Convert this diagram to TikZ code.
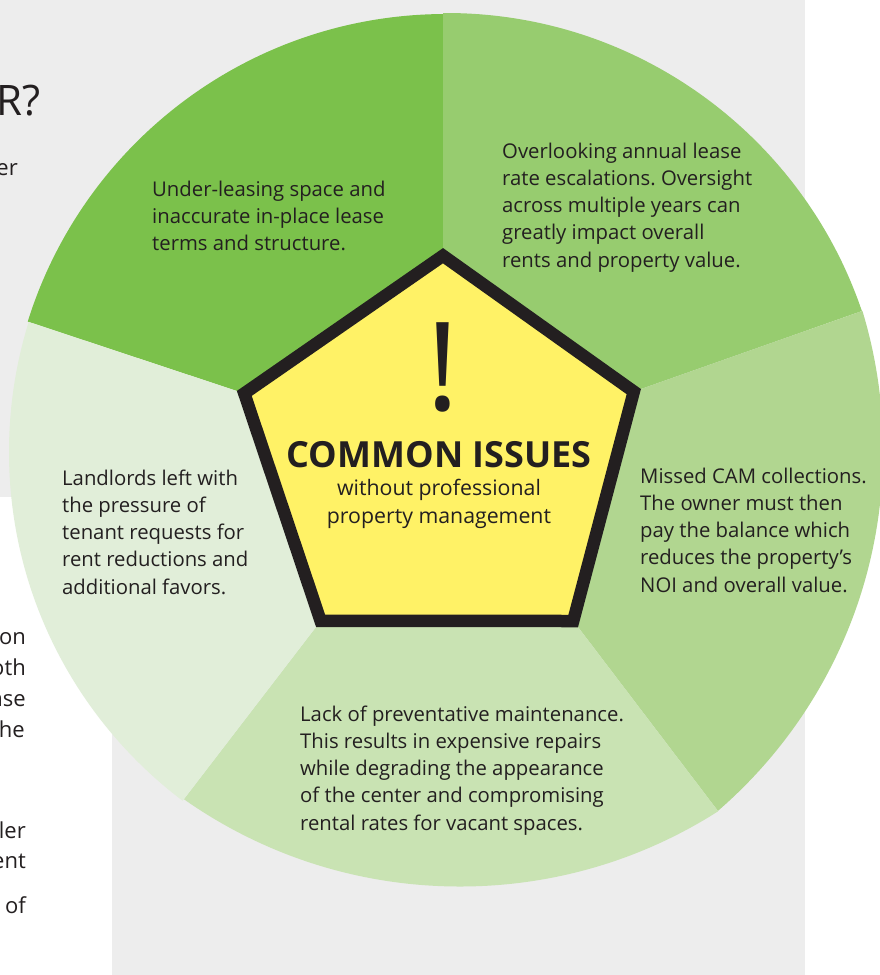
\documentclass[tikz,border=0pt]{standalone}
\usepackage{fontspec}
\setmainfont{Open Sans}
\usetikzlibrary{calc}
\frenchspacing
\definecolor{panelgray}{HTML}{EDEDED}
\definecolor{inkdark}{HTML}{231F20}
\definecolor{wedgeA}{HTML}{7BC14B}
\definecolor{wedgeB}{HTML}{97CC6F}
\definecolor{wedgeC}{HTML}{B1D690}
\definecolor{wedgeD}{HTML}{C9E3B3}
\definecolor{wedgeE}{HTML}{E1EED9}
\definecolor{warnyellow}{HTML}{FFF266}

\begin{document}
\begin{tikzpicture}[x=1pt,y=-1pt,
  % multi-line nodes sit on the baseline of their last line
  issue/.style={anchor=base west, align=left, inner sep=0pt, text=inkdark,
    font=\fontsize{20.3}{27.3}\selectfont},
  margintext/.style={anchor=base east, inner sep=0pt, text=inkdark,
    font=\fontsize{22}{30}\selectfont}]
\useasboundingbox (0,0) rectangle (880,975);
\clip (0,0) rectangle (880,975);

% page backdrop: grey panel with a white notch at the lower left
\fill[white] (0,0) rectangle (880,975);
\fill[panelgray] (0,0) rectangle (805,975);
\fill[white] (0,497) rectangle (112,975);

% text of the neighbouring column, cut off by the panel edge
\node[margintext, font=\fontsize{42}{42}\selectfont] (m0) at (41,115) {R?};
\node[margintext] (m1) at (18,175) {er};
\node[margintext] (m2) at (26,644) {on};
\node[margintext] (m3) at (26,675) {oth};
\node[margintext] (m4) at (26,706) {ase};
\node[margintext] (m5) at (25,737) {he};
\node[margintext] (m6) at (26,838) {ler};
\node[margintext] (m7) at (26,868) {ent};
\node[margintext] (m8) at (26,913) {of};

% pentagon corners (outer edge) and the outer ends of the seams
\coordinate (O)  at (443,470);
\coordinate (V1) at (443,248);
\coordinate (V2) at (641,389);
\coordinate (V3) at (578,627);
\coordinate (V4) at (316,627);
\coordinate (V5) at (237,391);
\coordinate (E1) at (443,13);
\coordinate (E2) at (862,311);
\coordinate (E3) at (718,811);
\coordinate (E4) at (184,799);
\coordinate (E5) at (29,322);

% five wedges of the disc
\begin{scope}
  \clip (446,452) circle[radius=438];
  \fill[wedgeA] (O) -- (V5) -- ($(V5)!3!(E5)$) -- ($(V1)!3!(E1)$) -- (V1) -- cycle;
\end{scope}
\begin{scope}
  \clip (446,452) circle[radius=439];
  \fill[wedgeB] (O) -- (V1) -- ($(V1)!3!(E1)$) -- ($(V2)!3!(E2)$) -- (V2) -- cycle;
\end{scope}
\begin{scope}
  \clip (406,450) circle[radius=477];
  \fill[wedgeC] (O) -- (V2) -- ($(V2)!3!(E2)$) -- ($(V3)!3!(E3)$) -- (V3) -- cycle;
\end{scope}
\begin{scope}
  \clip (460,406.5) circle[radius=480];
  \fill[wedgeD] (O) -- (V3) -- ($(V3)!3!(E3)$) -- ($(V4)!3!(E4)$) -- (V4) -- cycle;
\end{scope}
\begin{scope}
  \clip (446,452) circle[radius=437];
  \fill[wedgeE] (O) -- (V4) -- ($(V4)!3!(E4)$) -- ($(V5)!3!(E5)$) -- (V5) -- cycle;
\end{scope}

% central warning pentagon
\draw[line width=12.5pt, line join=miter, draw=inkdark, fill=warnyellow]
  (443,255.7) -- (633.8,391.6) -- (573.2,621) -- (320.6,620.8) -- (244.3,393.4) -- cycle;

\node[anchor=base, inner sep=0pt, text=inkdark, font=\fontsize{123}{123}\selectfont]
  (bang) at (443,410) {!};
\node[anchor=base, inner sep=0pt, text=inkdark, font=\bfseries\fontsize{36}{36}\selectfont]
  (title) at (439,467) {COMMON ISSUES};
\node[anchor=base, align=center, inner sep=0pt, text=inkdark, font=\fontsize{21.3}{28}\selectfont]
  (sub) at (439,523) {without professional\\property management};

% issue texts
\node[issue] (t1) at (152,250.6) {Under-leasing space and\\inaccurate in-place lease\\terms and structure.};
\node[issue] (t2) at (502,267.2) {Overlooking annual lease\\rate escalations. Oversight\\across multiple years can\\greatly impact overall\\rents and property value.};
\node[issue] (t3) at (640,592.2) {Missed CAM collections.\\The owner must then\\pay the balance which\\reduces the property’s\\NOI and overall value.};
\node[issue] (t4) at (300,830.2) {Lack of preventative maintenance.\\This results in expensive repairs\\while degrading the appearance\\of the center and compromising\\rental rates for vacant spaces.};
\node[issue] (t5) at (62,594.2) {Landlords left with\\the pressure of\\tenant requests for\\rent reductions and\\additional favors.};
\end{tikzpicture}
\end{document}
